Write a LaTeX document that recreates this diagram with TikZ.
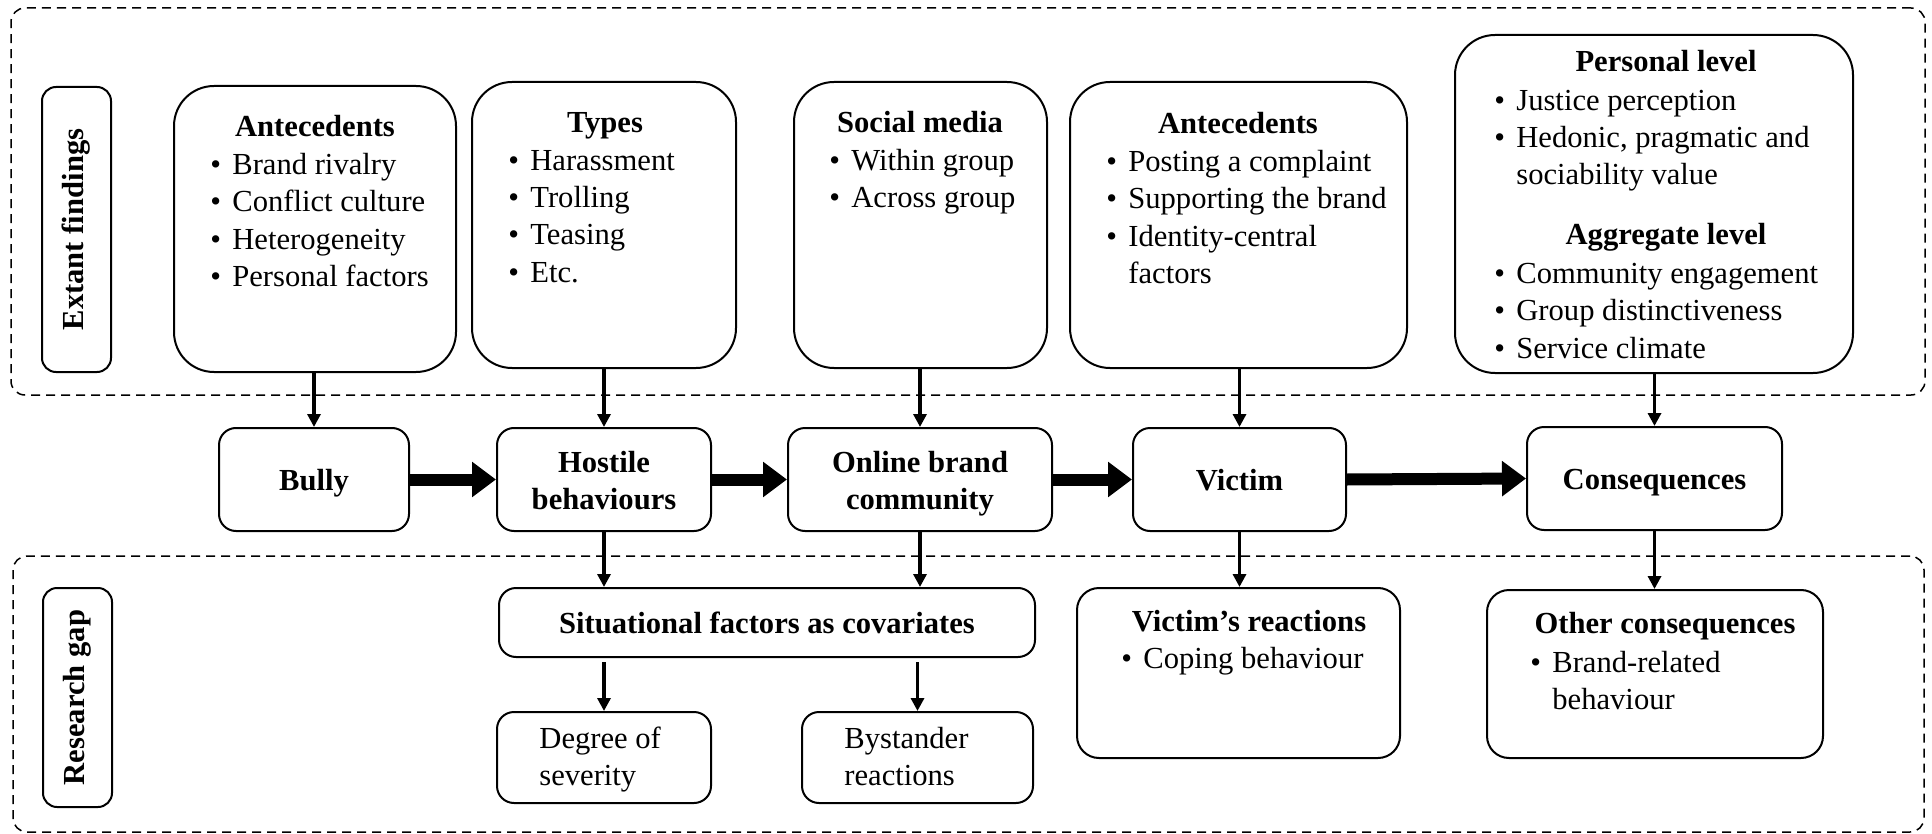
\documentclass[tikz,border=0pt]{standalone}
\usepackage{fontspec}
\setmainfont{Liberation Serif}
\usetikzlibrary{arrows.meta,fit}
\newcommand{\bitem}[1]{\makebox[11pt][l]{\textbullet}#1}
\newcommand{\firstline}{\rule{0pt}{11pt}}
\tikzset{
  box/.style={draw, line width=1pt, rounded corners=8.5pt, inner sep=0pt},
  bigbox/.style={draw, line width=1pt, rounded corners=20pt, inner sep=0pt},
  midbox/.style={draw, line width=1pt, rounded corners=11pt, inner sep=0pt},
  sidebox/.style={draw, line width=1pt, rounded corners=7pt, inner sep=0pt},
  dashbox/.style={draw, dashed, dash pattern=on 4.5pt off 3pt, line width=0.75pt, rounded corners=7pt, inner sep=0pt},
  head/.style={font=\bfseries, inner sep=0pt, anchor=base},
  twoline/.style={font=\bfseries, align=center, inner sep=0pt, anchor=north},
  listtext/.style={align=left, inner sep=0pt, anchor=north west},
  thinarrow/.style={line width=1.6pt, -{Triangle[width=6.5pt,length=6.5pt]}},
  blockarrow/.style={line width=6pt, -{Triangle[width=17pt,length=12pt]}},
}
\begin{document}
\begin{tikzpicture}[x=0.5pt,y=-0.5pt]
\fontsize{15.3pt}{18.65pt}\selectfont
\useasboundingbox (0,0) rectangle (1932,834);

% dashed regions
\node[dashbox, fit={(11,8)(1925,395)}] (extregion) {};
\node[dashbox, fit={(13,556)(1924,832)}] (gapregion) {};

% side labels
\node[sidebox, fit={(42,87)(111,372)}] (extant) {};
\node[font=\bfseries, rotate=90, inner sep=0pt] (extantt) at (extant.center) {Extant findings};
\node[sidebox, fit={(43,588)(112,807)}] (gap) {};
\node[font=\bfseries, rotate=90, inner sep=0pt] (gapt) at (gap.center) {Research gap};

% top boxes
\node[bigbox, fit={(174,86)(456,372)}] (ant1) {};
\node[head] (ant1h) at (315,137) {Antecedents};
\node[listtext] (ant1l) at (210,152) {\firstline\bitem{Brand rivalry}\\\bitem{Conflict culture}\\\bitem{Heterogeneity}\\\bitem{Personal factors}};

\node[bigbox, fit={(472,82)(736,368)}] (types) {};
\node[head] (typesh) at (605,133) {Types};
\node[listtext] (typesl) at (508,148) {\firstline\bitem{Harassment}\\\bitem{Trolling}\\\bitem{Teasing}\\\bitem{Etc.}};

\node[bigbox, fit={(794,82)(1047,368)}] (social) {};
\node[head] (socialh) at (920,133) {Social media};
\node[listtext] (sociall) at (829,148) {\firstline\bitem{Within group}\\\bitem{Across group}};

\node[bigbox, fit={(1070,82)(1407,368)}] (ant2) {};
\node[head] (ant2h) at (1238,134) {Antecedents};
\node[listtext] (ant2l) at (1106,149) {\firstline\bitem{Posting a complaint}\\\bitem{Supporting the brand}\\\bitem{Identity-central}\\\hspace*{11pt}factors};

\node[bigbox, fit={(1455,35)(1853,373)}] (personal) {};
\node[head] (personalh) at (1666,72) {Personal level};
\node[listtext] (personall) at (1494,88) {\firstline\bitem{Justice perception}\\\bitem{Hedonic, pragmatic and}\\\hspace*{11pt}sociability value};
\node[head] (aggh) at (1666,245) {Aggregate level};
\node[listtext] (aggl) at (1494,261) {\firstline\bitem{Community engagement}\\\bitem{Group distinctiveness}\\\bitem{Service climate}};

% middle row
\node[box, fit={(219,428)(409,531)}] (bully) {};
\node[head] (bullyt) at (314,490) {Bully};
\node[box, fit={(497,428)(711,531)}] (hostile) {};
\node[twoline] (hostilet) at (604,450) {\firstline Hostile\\behaviours};
\node[box, fit={(788,428)(1052,531)}] (online) {};
\node[twoline] (onlinet) at (920,450) {\firstline Online brand\\community};
\node[box, fit={(1133,428)(1346,531)}] (victim) {};
\node[head] (victimt) at (1239.5,490) {Victim};
\node[box, fit={(1527,427)(1782,530)}] (conseq) {};
\node[head] (conseqt) at (1654.5,489) {Consequences};

% bottom boxes
\node[box, fit={(499,588)(1035,657)}] (situ) {};
\node[font=\bfseries, inner sep=0pt] (situt) at (situ.center) {Situational factors as covariates};
\node[box, fit={(497,712)(711,803)}] (degree) {};
\node[listtext] (degreet) at (539,726) {\firstline Degree of\\severity};
\node[box, fit={(802,712)(1033,803)}] (bystander) {};
\node[listtext] (bystandert) at (844,726) {\firstline Bystander\\reactions};
\node[midbox, fit={(1077,588)(1400,758)}] (vreact) {};
\node[head] (vreacth) at (1249,631) {Victim’s reactions};
\node[listtext] (vreactl) at (1121,646) {\firstline\bitem{Coping behaviour}};
\node[midbox, fit={(1487,590)(1823,758)}] (other) {};
\node[head] (otherh) at (1665,633) {Other consequences};
\node[listtext] (otherl) at (1530,650) {\firstline\bitem{Brand-related}\\\hspace*{11pt}behaviour};

% block arrows
\draw[blockarrow] (bully.east) -- (hostile.west);
\draw[blockarrow] (hostile.east) -- (online.west);
\draw[blockarrow] (online.east) -- (victim.west);
\draw[blockarrow] (victim.east) -- (conseq.west);

% thin vertical arrows from extant findings
\draw[thinarrow] (bully.north |- ant1.south) -- (bully.north);
\draw[thinarrow] (hostile.north |- types.south) -- (hostile.north);
\draw[thinarrow] (online.north |- social.south) -- (online.north);
\draw[thinarrow] (victim.north |- ant2.south) -- (victim.north);
\draw[thinarrow] (conseq.north |- personal.south) -- (conseq.north);

% thin vertical arrows to research gap
\draw[thinarrow] (hostile.south) -- (hostile.south |- situ.north);
\draw[thinarrow] (online.south) -- (online.south |- situ.north);
\draw[thinarrow, shorten <=2pt] (degree.north |- situ.south) -- (degree.north);
\draw[thinarrow, shorten <=2pt] (bystander.north |- situ.south) -- (bystander.north);
\draw[thinarrow] (victim.south) -- (victim.south |- vreact.north);
\draw[thinarrow] (conseq.south) -- (conseq.south |- other.north);
\end{tikzpicture}
\end{document}
